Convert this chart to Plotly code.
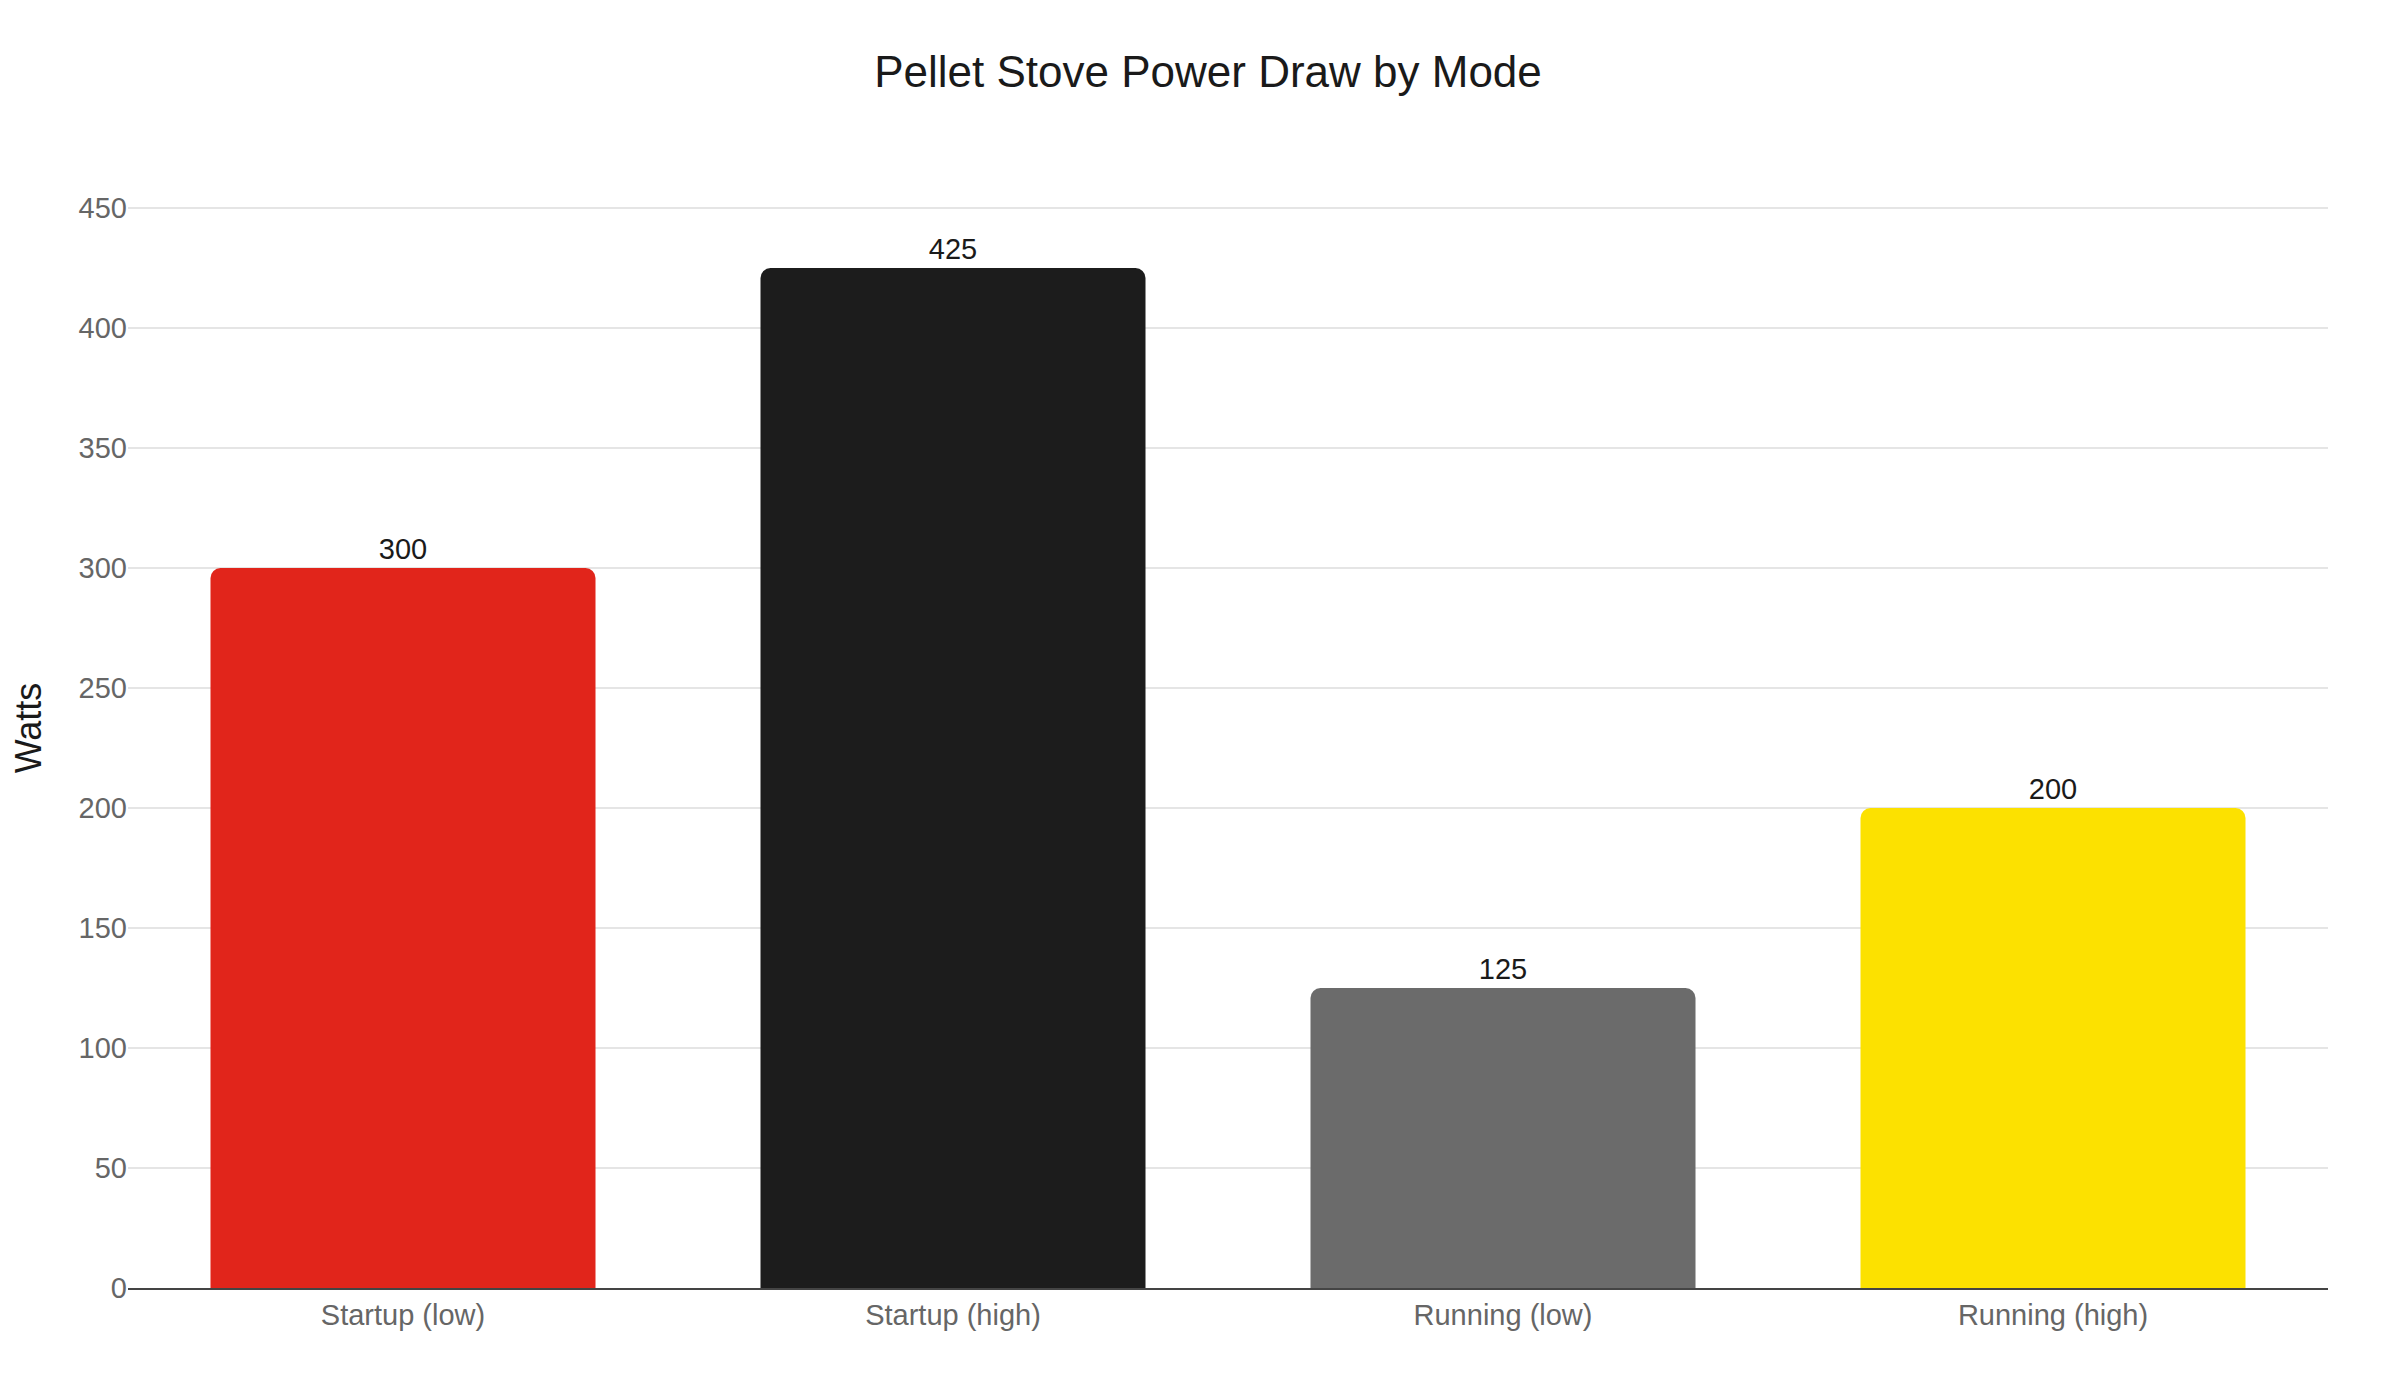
import plotly.graph_objects as go

# Power draw per operating mode
modes = ["Startup (low)", "Startup (high)", "Running (low)", "Running (high)"]
watts = [300, 425, 125, 200]
bar_colors = ["#E1251B", "#1C1C1C", "#6B6B6B", "#FCE100"]

FONT = "Helvetica Neue, Helvetica, Arial, Liberation Sans, sans-serif"

fig = go.Figure(
    go.Bar(
        x=modes,
        y=watts,
        marker=dict(color=bar_colors, line=dict(width=0)),
        text=watts,
        textposition="outside",
        textfont=dict(size=29, color="#1a1a1a", family=FONT),
        cliponaxis=False,
        showlegend=False,
    )
)

fig.update_layout(
    width=2400,
    height=1400,
    paper_bgcolor="white",
    plot_bgcolor="white",
    font=dict(family=FONT),
    title=dict(
        text="Pellet Stove Power Draw by Mode",
        x=0.5,
        xanchor="center",
        y=1 - 64 / 1400,
        yanchor="middle",
        font=dict(size=44, color="#1a1a1a", family=FONT),
    ),
    margin=dict(l=120, r=80, t=160, b=120),
    bargap=0.3,
    barcornerradius=10,
)

fig.update_xaxes(
    showgrid=False,
    showline=True,
    linecolor="#444444",
    linewidth=2,
    ticks="",
    tickfont=dict(size=29, color="#666666", family=FONT),
)

fig.update_yaxes(
    range=[0, 466.7],
    dtick=50,
    showgrid=True,
    gridcolor="#e5e5e5",
    gridwidth=2,
    zeroline=False,
    showline=False,
    ticks="",
    tickfont=dict(size=29, color="#666666", family=FONT),
    title=dict(text="Watts", font=dict(size=36, color="#1a1a1a", family=FONT), standoff=32),
)

fig.write_html("out.html")
